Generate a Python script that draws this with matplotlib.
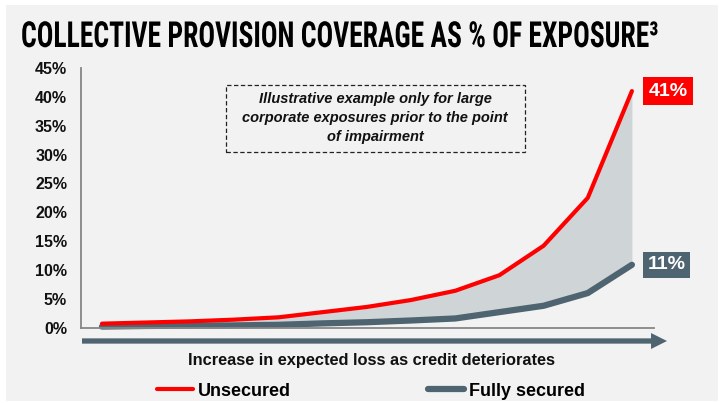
import matplotlib
matplotlib.use("Agg")
import matplotlib.pyplot as plt
from matplotlib import font_manager as fm
from matplotlib.patches import Rectangle, FancyArrowPatch, ArrowStyle
from matplotlib.patheffects import AbstractPathEffect
from matplotlib.transforms import Affine2D
import numpy as np

# ---- data ----
steps = list(range(13))
unsecured = [0.7, 0.9, 1.1, 1.4, 1.8, 2.7, 3.6, 4.8, 6.4, 9.1, 14.2, 22.5, 41.0]
fully_secured = [0.2, 0.3, 0.35, 0.4, 0.5, 0.75, 0.95, 1.25, 1.6, 2.7, 3.8, 6.0, 10.9]
yticks = [0, 5, 10, 15, 20, 25, 30, 35, 40, 45]
ytick_labels = [f"{v}%" for v in yticks]
title = "COLLECTIVE PROVISION COVERAGE AS % OF EXPOSURE\u00b3"
note = "Illustrative example only for large\ncorporate exposures prior to the point\nof impairment"
xlabel = "Increase in expected loss as credit deteriorates"
series_names = ["Unsecured", "Fully secured"]

RED = "#ff0000"
SLATE = "#4e6470"
FILL = "#cfd4d7"
BG = "#f2f2f2"
AXC = "#868686"

W, H = 724, 403
fig = plt.figure(figsize=(W / 100, H / 100), dpi=100, facecolor="white")
fig.patches.append(Rectangle((6 / W, 2 / H), 712 / W, 396 / H, transform=fig.transFigure,
                             facecolor=BG, edgecolor="none", zorder=-10))


def has(f):
    try:
        fm.findfont(fm.FontProperties(family=f, weight="bold"), fallback_to_default=False)
        return True
    except Exception:
        return False


title_family = "DejaVu Sans"
for cand in ["Roboto Condensed", "Liberation Sans Narrow", "DejaVu Sans Condensed", "Open Sans Condensed"]:
    if has(cand):
        title_family = cand
        break

BODY = ["Liberation Sans", "DejaVu Sans"]


class VStretch(AbstractPathEffect):
    """Stretch glyph outlines vertically around a fixed display y (the baseline)."""

    def __init__(self, sy, yc):
        super().__init__()
        self.sy, self.yc = sy, yc

    def draw_path(self, renderer, gc, tpath, affine, rgbFace=None):
        aff = affine + Affine2D().translate(0, -self.yc).scale(1, self.sy).translate(0, self.yc)
        renderer.draw_path(gc, tpath, aff, rgbFace)


ax = fig.add_axes([81 / W, 1 - 327.7 / H, (654 - 81) / W, (327.7 - 68) / H])
ax.set_facecolor(BG)
ax.patch.set_alpha(0)
ax.set_xlim(-0.475, 12.5)
ax.set_ylim(0, 45)
for s in ["top", "right"]:
    ax.spines[s].set_visible(False)
for s in ["left", "bottom"]:
    ax.spines[s].set_color(AXC)
    ax.spines[s].set_linewidth(1.3)
ax.set_xticks([])
ax.set_yticks(yticks)
ax.set_yticklabels(ytick_labels, family=BODY, fontweight="bold", fontsize=11.5, color="#111111")
ax.tick_params(axis="y", length=0, pad=10)

ax.fill_between(steps, fully_secured, unsecured, color=FILL, lw=0, zorder=1)
l2, = ax.plot(steps, fully_secured, color=SLATE, lw=4.5, solid_capstyle="round",
              solid_joinstyle="round", zorder=2, clip_on=False, label=series_names[1])
l1, = ax.plot(steps, unsecured, color=RED, lw=3, solid_capstyle="round",
              solid_joinstyle="round", zorder=3, clip_on=False, label=series_names[0])

ax.annotate(f"{unsecured[-1]:.0f}%", xy=(steps[-1], unsecured[-1]), xytext=(26, 0),
            textcoords="offset points", ha="center", va="center", color="white",
            fontsize=14, fontweight="bold", family=BODY, annotation_clip=False,
            bbox=dict(boxstyle="square,pad=0.28", fc=RED, ec="none"))
ax.annotate(f"{fully_secured[-1]:.0f}%", xy=(steps[-1], fully_secured[-1]), xytext=(25, 0),
            textcoords="offset points", ha="center", va="center", color="white",
            fontsize=14, fontweight="bold", family=BODY, annotation_clip=False,
            bbox=dict(boxstyle="square,pad=0.22", fc=SLATE, ec="none"))

# arrow under axis
y_arr = (327.7 - 341) / (327.7 - 68)
arr = FancyArrowPatch((1 / 573, y_arr), ((667 - 81) / 573, y_arr), transform=ax.transAxes,
                      arrowstyle=ArrowStyle.Simple(head_length=11.5, head_width=11.5, tail_width=3.8),
                      mutation_scale=1, shrinkA=0, shrinkB=0, color=SLATE, lw=0, clip_on=False)
ax.add_patch(arr)

fig.text(372 / W, 1 - 361 / H, xlabel, ha="center", va="center", fontsize=11.8,
         fontweight="bold", family=BODY, color="#111111")

# note box
fig.patches.append(Rectangle((225.7 / W, 1 - 151.7 / H), (525 - 225.7) / W, (151.7 - 85) / H,
                             transform=fig.transFigure, facecolor="none", edgecolor="#222222",
                             lw=0.9, linestyle=(0, (3.5, 2))))
fig.text(375 / W, 1 - 118.3 / H, note, ha="center", va="center", fontsize=10.5,
         fontweight="bold", style="italic", family=BODY, color="#111111", linespacing=1.45)

leg = fig.legend([l1, l2], series_names, loc="center", bbox_to_anchor=(371 / W, 1 - 391 / H),
                 ncol=2, frameon=False, handlelength=2.0, handletextpad=0.25,
                 columnspacing=7.6, prop=fm.FontProperties(family=BODY, weight="bold", size=13))

# title fitted to width, glyphs stretched upward to the reference height
base_y = 47
t = fig.text(21 / W, 1 - base_y / H, title, ha="left", va="baseline", fontsize=27,
             fontweight="bold", family=title_family, color="black")
fig.canvas.draw()
bb = t.get_window_extent()
target = 637
if bb.width > 0:
    t.set_fontsize(27 * target / bb.width)
t.set_path_effects([VStretch(1.3, H - base_y)])

fig.savefig("out.png", dpi=100, facecolor="white")
